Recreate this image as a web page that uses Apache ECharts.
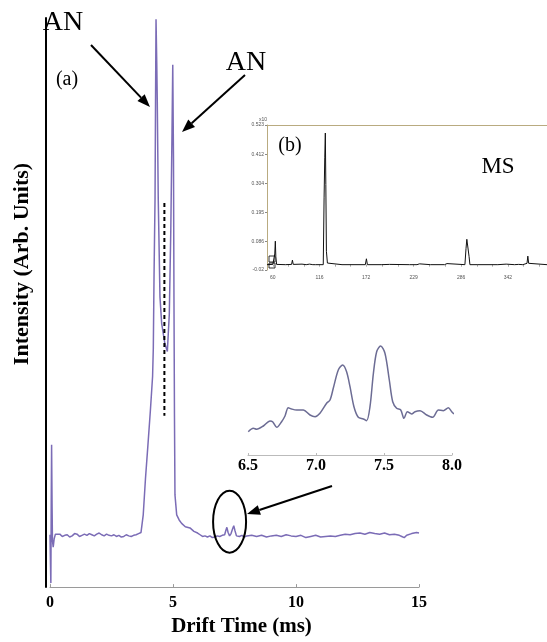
<!DOCTYPE html>
<html><head><meta charset="utf-8">
<script src="https://cdn.jsdelivr.net/npm/echarts@6/dist/echarts.min.js"></script>
<style>html,body{margin:0;padding:0;background:#fff}#c{width:547px;height:642px}</style>
</head><body><div id="c"></div>
<script>
// ---- data ----
const driftTicks = [0, 5, 10, 15];
const mainTrace = [
[0.00,9.2],[0.02,4.0],[0.035,0.7],[0.05,15],[0.065,25.0],[0.085,14],[0.10,8.2],[0.13,7.0],[0.17,8.5],[0.22,9.3],
[0.30,9.1],[0.40,9.3],[0.50,8.9],[0.60,9.1],[0.70,9.2],[0.80,8.8],[0.90,9.0],[1.00,9.4],[1.10,9.3],[1.20,8.9],
[1.30,9.1],[1.40,9.3],[1.50,9.1],[1.60,9.4],[1.70,9.2],[1.80,9.0],[1.90,9.3],[2.00,9.5],[2.10,9.2],[2.20,9.0],
[2.30,9.3],[2.40,9.1],[2.50,9.0],[2.60,9.2],[2.70,8.9],[2.80,9.1],[2.90,8.8],[3.00,8.9],[3.10,9.2],[3.20,9.0],
[3.30,8.9],[3.40,9.1],[3.50,9.2],[3.60,9.4],[3.70,9.6],[3.76,9.9],[3.79,12.7],[3.88,19],[3.98,24.9],[4.08,31],
[4.17,37.0],[4.20,42],[4.23,55],[4.27,68.3],[4.29,85],[4.31,99.8],[4.34,92],[4.36,85.7],[4.40,68.3],[4.47,51.0],
[4.54,46.3],[4.67,42.8],[4.77,41.4],[4.85,48.0],[4.91,62.6],[4.96,80.0],[4.99,91.8],[5.02,75],[5.04,50],[5.06,30],
[5.08,16.2],[5.15,12.7],[5.25,11.8],[5.35,11.2],[5.50,10.6],[5.69,10.4],[5.85,9.8],[6.00,9.5],[6.10,9.2],[6.20,8.9],
[6.30,9.0],[6.40,8.8],[6.50,9.0],[6.60,8.7],[6.70,8.8],[6.80,9.0],[6.90,8.9],[7.00,9.1],[7.10,9.2],[7.15,10.0],
[7.19,10.5],[7.24,9.6],[7.30,9.0],[7.36,9.4],[7.42,10.2],[7.47,10.8],[7.52,9.9],[7.58,9.0],[7.70,8.9],[7.80,9.1],
[7.90,8.8],[8.00,9.0],[8.20,9.1],[8.40,8.9],[8.60,9.1],[8.80,8.8],[9.00,9.0],[9.20,9.1],[9.40,8.9],[9.60,9.2],
[9.80,9.0],[10.0,8.9],[10.2,9.1],[10.4,8.7],[10.6,8.9],[10.8,9.1],[11.0,8.8],[11.2,8.9],[11.4,9.0],[11.6,8.9],
[11.8,9.1],[12.0,9.3],[12.2,9.2],[12.4,9.4],[12.6,9.5],[12.8,9.3],[13.0,9.6],[13.2,9.4],[13.4,9.3],[13.6,9.5],
[13.8,9.2],[14.0,9.3],[14.2,9.1],[14.3,8.9],[14.4,8.7],[14.5,9.1],[14.7,9.4],[14.9,9.6],[15.0,9.5]
];
const dashedMarker = [[4.65, 67.5], [4.65, 30.1]];
const zoomTicks = [6.5, 7.0, 7.5, 8.0];
const zoomTrace = [
[6.502,23.3],[6.539,26.7],[6.564,25.7],[6.613,29],[6.662,34],[6.681,33.3],[6.711,27.7],[6.747,33.3],[6.772,39],
[6.796,47.3],[6.821,46],[6.858,45],[6.907,45],[6.956,40],[6.993,38.3],[7.029,41.7],[7.078,51.7],[7.103,55],
[7.127,66.7],[7.164,85],[7.196,90],[7.225,83.3],[7.250,68.3],[7.279,48.3],[7.311,37.7],[7.348,36],[7.372,34.3],
[7.397,48.3],[7.422,81.7],[7.446,103.3],[7.475,109],[7.507,101.7],[7.539,75],[7.564,53.3],[7.593,46.7],[7.623,45],
[7.647,36.7],[7.672,43.3],[7.703,41],[7.728,43.3],[7.765,44.3],[7.814,40],[7.858,37.7],[7.900,45],[7.936,44.3],
[7.973,47.3],[7.998,43.3],[8.015,41]
];
const msSpectrum = [
[53,0.0],[60,0.001],[61.5,0.002],[62.3,0.04],[63,0.088],[63.6,0.03],[64.5,0.001],[75,0.0],[82.5,0.001],[83.5,0.017],
[84.5,0.001],[95,0.002],[100,0],[104,0.002],[108,0.0],[110,0.004],[111,0.0],[120.5,0.0],[121.5,0.25],[122.3,0.40],
[123,0.493],[123.6,0.30],[124.3,0.05],[125.5,0.006],[127,0.0],[143,0.0],[144,0.004],[145,0.0],[171,0.0],[172.3,0.022],
[173.5,0.0],[190,0.0],[200,0.001],[224,0.0],[225,0.005],[226,0.0],[233,0.0],[234,0.003],[236,0.003],[237,0.0],
[249,0.0],[250,0.002],[251,0],[266,0],[268,0.002],[269,0.004],[270,0],[290.5,0],[291.8,0.06],[292.8,0.095],
[294.5,0.093],[295.5,0.03],[296.5,0],[306,0],[307,0.004],[308,0],[330,0],[340,0.002],[350,0],[355,0.001],
[360,0],[365,0.005],[366,0.032],[367,0.005],[368,0],[389,0]
];
const msYTicks = [-0.02, 0.086, 0.195, 0.304, 0.412, 0.523];
const msXTicks = [60, 116, 172, 229, 286, 342];
const msMinorTicks = [60, 78.7, 97.3, 116, 134.7, 153.3, 172, 191, 210, 229, 248, 267, 286, 304.7, 323.3, 342, 360.7, 379.3];

// ---- chart ----
const SERIF = '"Liberation Serif", "Times New Roman", serif';
const chart = echarts.init(document.getElementById('c'), null, {renderer: 'canvas'});

const option = {
  animation: false,
  backgroundColor: '#fff',
  grid: [
    {left: 50, right: 128, top: 18, bottom: 49},
    {left: 248, right: 95, top: 345, bottom: 187},
    {left: 267, right: 0, top: 125, bottom: 372}
  ],
  xAxis: [
    {gridIndex: 0, type: 'value', min: 0, max: 15, interval: 5,
     axisLine: {show: true, onZero: false, lineStyle: {color: '#9a9a9a', width: 1}},
     axisTick: {show: true, inside: true, length: 3, lineStyle: {color: '#9a9a9a'}},
     splitLine: {show: false},
     axisLabel: {margin: 8, color: '#000', fontFamily: SERIF, fontWeight: 'bold', fontSize: 16},
     name: 'Drift Time (ms)', nameLocation: 'middle', nameGap: 25,
     nameTextStyle: {color: '#000', fontFamily: SERIF, fontWeight: 'bold', fontSize: 21, padding: [0, 0, 0, 14]}},
    {gridIndex: 1, type: 'value', min: 6.5, max: 8.0, interval: 0.5,
     axisLine: {show: true, onZero: false, lineStyle: {color: '#bbbbbb', width: 1}},
     axisTick: {show: true, inside: true, length: 2, lineStyle: {color: '#bbbbbb'}},
     splitLine: {show: false},
     axisLabel: {margin: 3, color: '#000', fontFamily: SERIF, fontWeight: 'bold', fontSize: 16,
                 formatter: v => v.toFixed(1)}},
    {gridIndex: 2, type: 'value', min: 53, max: 389,
     axisLine: {show: false},
     axisTick: {show: true, length: 2, customValues: msMinorTicks, lineStyle: {color: '#aaaaaa'}},
     splitLine: {show: false},
     axisLabel: {margin: 5, color: '#555', fontSize: 5, customValues: msXTicks}},
    {gridIndex: 2, type: 'value', min: 53, max: 389, position: 'top',
     axisLine: {show: true, onZero: false, lineStyle: {color: '#b9ab80', width: 1}},
     axisTick: {show: false}, axisLabel: {show: false}, splitLine: {show: false}}
  ],
  yAxis: [
    {gridIndex: 0, type: 'value', min: 0, max: 100, offset: 4,
     axisLine: {show: true, onZero: false, lineStyle: {color: '#000', width: 2}},
     axisTick: {show: false}, axisLabel: {show: false}, splitLine: {show: false}},
    {gridIndex: 1, type: 'value', min: 0, max: 110, show: false},
    {gridIndex: 2, type: 'value', min: -0.02, max: 0.523,
     axisLine: {show: true, onZero: false, lineStyle: {color: '#b9ab80', width: 1}},
     axisTick: {show: true, length: 2, customValues: msYTicks, lineStyle: {color: '#888'}},
     splitLine: {show: false},
     axisLabel: {margin: 3, color: '#555', fontSize: 5, customValues: msYTicks,
                 formatter: v => { const i = msYTicks.findIndex(t => Math.abs(t - v) < 1e-6); return i >= 0 ? String(msYTicks[i]) : ''; }}}
  ],
  series: [
    {type: 'line', xAxisIndex: 0, yAxisIndex: 0, data: mainTrace, showSymbol: false, symbol: 'none',
     lineStyle: {color: '#7b6cb6', width: 1.5}, z: 3},
    {type: 'line', xAxisIndex: 0, yAxisIndex: 0, data: dashedMarker, showSymbol: false, symbol: 'none',
     lineStyle: {color: '#000', width: 2, type: [4, 3]}, z: 4},
    {type: 'line', xAxisIndex: 1, yAxisIndex: 1, data: zoomTrace, showSymbol: false, symbol: 'none', smooth: 0.3,
     clip: false, lineStyle: {color: '#6c6c94', width: 1.5}},
    {type: 'line', xAxisIndex: 2, yAxisIndex: 2, data: msSpectrum, showSymbol: false, symbol: 'none',
     lineStyle: {color: '#111', width: 1}}
  ]
};
chart.setOption(option);

function arrow(x1, y1, x2, y2) {
  const a = Math.atan2(y2 - y1, x2 - x1), L = 13, W = 5;
  const c = Math.cos(a), s = Math.sin(a);
  const bx = x2 - L * c, by = y2 - L * s;
  return [
    {type: 'line', shape: {x1: x1, y1: y1, x2: bx, y2: by}, style: {stroke: '#000', lineWidth: 2}, z: 10},
    {type: 'polygon', shape: {points: [[x2, y2], [bx - W * s, by + W * c], [bx + W * s, by - W * c]]}, style: {fill: '#000'}, z: 10}
  ];
}
const ellC = chart.convertToPixel({xAxisIndex: 0, yAxisIndex: 0}, [7.3, 11.5]);
const txt = (t, x, y, size, bold, extra) => Object.assign({type: 'text', x: x, y: y, z: 10,
  style: {text: t, fill: '#000', font: (bold ? 'bold ' : '') + size + 'px ' + SERIF, textAlign: 'center', textVerticalAlign: 'middle'}}, extra || {});

chart.setOption({
  graphic: [
    txt('Intensity (Arb. Units)', 22, 264, 22, true, {rotation: Math.PI / 2}),
    txt('AN', 63, 23, 28, false),
    txt('AN', 246, 63, 28, false),
    txt('(a)', 67, 80, 20, false),
    txt('(b)', 290, 146, 20, false),
    txt('MS', 498, 167, 23, false),
    {type: 'text', x: 263, y: 120, z: 10, style: {text: 'x10', fill: '#555', font: '5px sans-serif', textAlign: 'center', textVerticalAlign: 'middle'}},
    {type: 'rect', shape: {x: 269, y: 256, width: 6, height: 6}, style: {fill: 'none', stroke: '#000', lineWidth: 0.8}, z: 10},
    {type: 'rect', shape: {x: 269, y: 263, width: 6, height: 5}, style: {fill: 'none', stroke: '#000', lineWidth: 0.8}, z: 10},
    {type: 'ellipse', shape: {cx: ellC[0], cy: ellC[1], rx: 16.5, ry: 31}, style: {fill: 'none', stroke: '#000', lineWidth: 2}, z: 10},
    ...arrow(91, 45, 150, 107),
    ...arrow(245, 75, 182, 132),
    ...arrow(332, 486, 247, 514)
  ]
});
</script>
</body></html>
